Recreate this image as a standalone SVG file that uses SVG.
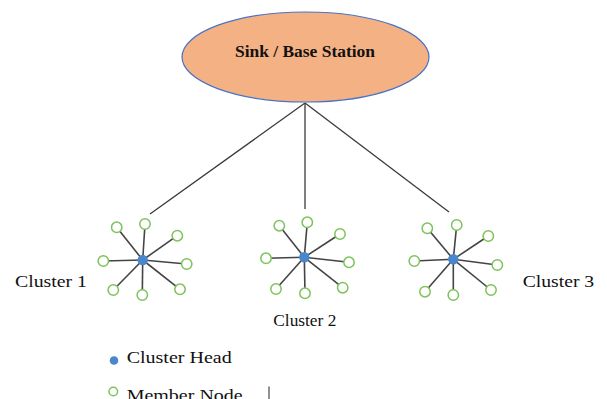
<svg xmlns="http://www.w3.org/2000/svg" width="607" height="399" viewBox="0 0 607 399">
<style>
.lbl{font-family:"Liberation Serif","Times New Roman",serif;fill:#111;}
.link{stroke:#3a3a3a;stroke-width:1.3;fill:none;}
.spoke{stroke:#444;stroke-width:1.6;}
.mem{fill:#fff;stroke:#7dc35b;stroke-width:1.5;}
.head{fill:#4a86cc;}
</style>
<rect width="607" height="399" fill="#fff"/>
<g id="connectors">
<line class="link" x1="305" y1="103" x2="150" y2="214"/>
<line class="link" x1="305" y1="103" x2="305" y2="209"/>
<line class="link" x1="305" y1="103" x2="449" y2="212"/>
</g>
<g id="sink">
<ellipse cx="305.5" cy="57" rx="123.5" ry="45" fill="#f4b183" stroke="#4a72c4" stroke-width="1.2"/>
<text class="lbl" x="305" y="57" text-anchor="middle" font-size="16" font-weight="bold" textLength="140" lengthAdjust="spacingAndGlyphs">Sink / Base Station</text>
</g>
<g id="cluster1">
<g class="spoke">
<line x1="142.7" y1="260" x2="116.7" y2="227.3"/><line x1="142.7" y1="260" x2="145" y2="224"/><line x1="142.7" y1="260" x2="177.3" y2="235.7"/><line x1="142.7" y1="260" x2="103.3" y2="261"/><line x1="142.7" y1="260" x2="186.7" y2="264"/><line x1="142.7" y1="260" x2="113.3" y2="290"/><line x1="142.7" y1="260" x2="142.3" y2="295"/><line x1="142.7" y1="260" x2="180" y2="289.3"/>
</g>
<circle class="mem" cx="116.7" cy="227.3" r="5.2"/><circle class="mem" cx="145" cy="224" r="5.2"/><circle class="mem" cx="177.3" cy="235.7" r="5.2"/><circle class="mem" cx="103.3" cy="261" r="5.2"/><circle class="mem" cx="186.7" cy="264" r="5.2"/><circle class="mem" cx="113.3" cy="290" r="5.2"/><circle class="mem" cx="142.3" cy="295" r="5.2"/><circle class="mem" cx="180" cy="289.3" r="5.2"/>
<circle class="head" cx="142.7" cy="260" r="5.2"/>
<text class="lbl" x="15" y="287" font-size="16" textLength="72" lengthAdjust="spacingAndGlyphs">Cluster 1</text>
</g>
<g id="cluster2">
<g class="spoke">
<line x1="304.3" y1="257.3" x2="279.3" y2="225.7"/><line x1="304.3" y1="257.3" x2="307.3" y2="222.3"/><line x1="304.3" y1="257.3" x2="340" y2="234"/><line x1="304.3" y1="257.3" x2="266" y2="258.3"/><line x1="304.3" y1="257.3" x2="349" y2="262.3"/><line x1="304.3" y1="257.3" x2="276" y2="289"/><line x1="304.3" y1="257.3" x2="305" y2="293.3"/><line x1="304.3" y1="257.3" x2="342.7" y2="287.7"/>
</g>
<circle class="mem" cx="279.3" cy="225.7" r="5.2"/><circle class="mem" cx="307.3" cy="222.3" r="5.2"/><circle class="mem" cx="340" cy="234" r="5.2"/><circle class="mem" cx="266" cy="258.3" r="5.2"/><circle class="mem" cx="349" cy="262.3" r="5.2"/><circle class="mem" cx="276" cy="289" r="5.2"/><circle class="mem" cx="305" cy="293.3" r="5.2"/><circle class="mem" cx="342.7" cy="287.7" r="5.2"/>
<circle class="head" cx="304.3" cy="257.3" r="5.2"/>
<text class="lbl" x="273.3" y="326" font-size="16" textLength="63" lengthAdjust="spacingAndGlyphs">Cluster 2</text>
</g>
<g id="cluster3">
<g class="spoke">
<line x1="453.3" y1="259.3" x2="427.3" y2="228.3"/><line x1="453.3" y1="259.3" x2="456.7" y2="225"/><line x1="453.3" y1="259.3" x2="488.3" y2="236"/><line x1="453.3" y1="259.3" x2="414.3" y2="261"/><line x1="453.3" y1="259.3" x2="497.3" y2="265"/><line x1="453.3" y1="259.3" x2="425" y2="291.7"/><line x1="453.3" y1="259.3" x2="453.3" y2="295"/><line x1="453.3" y1="259.3" x2="491" y2="290"/>
</g>
<circle class="mem" cx="427.3" cy="228.3" r="5.2"/><circle class="mem" cx="456.7" cy="225" r="5.2"/><circle class="mem" cx="488.3" cy="236" r="5.2"/><circle class="mem" cx="414.3" cy="261" r="5.2"/><circle class="mem" cx="497.3" cy="265" r="5.2"/><circle class="mem" cx="425" cy="291.7" r="5.2"/><circle class="mem" cx="453.3" cy="295" r="5.2"/><circle class="mem" cx="491" cy="290" r="5.2"/>
<circle class="head" cx="453.3" cy="259.3" r="5.2"/>
<text class="lbl" x="522.7" y="287" font-size="16" textLength="71.5" lengthAdjust="spacingAndGlyphs">Cluster 3</text>
</g>
<g id="legend">
<circle class="head" cx="114" cy="360.5" r="4.3"/>
<text class="lbl" x="126.7" y="362.5" font-size="16" textLength="105" lengthAdjust="spacingAndGlyphs">Cluster Head</text>
<circle class="mem" cx="113.3" cy="391.5" r="4.3" stroke-width="1.3"/>
<text class="lbl" x="126.7" y="400.5" font-size="16" textLength="116" lengthAdjust="spacingAndGlyphs">Member Node</text>
<line x1="269" y1="386.5" x2="269" y2="399" stroke="#222" stroke-width="1"/>
</g>
</svg>
